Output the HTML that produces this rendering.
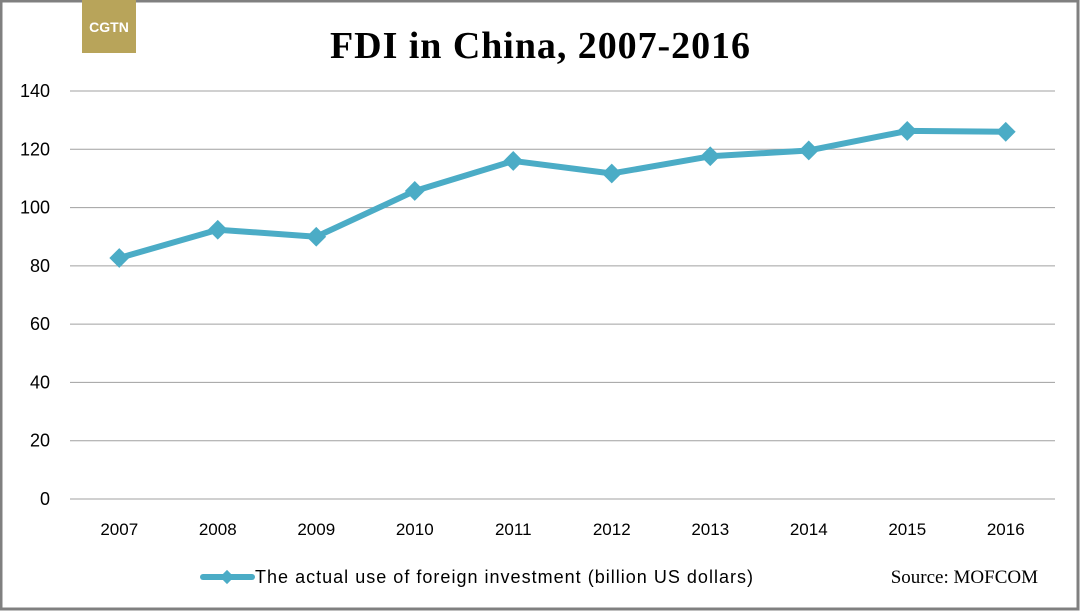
<!DOCTYPE html>
<html><head><meta charset="utf-8"><style>
html,body{margin:0;padding:0;background:#fff}
#wrap{position:relative;width:1080px;height:611px;overflow:hidden;background:#fff}
</style></head><body>
<div id="wrap">
<svg id="chart" width="1080" height="611" font-family="Liberation Sans, sans-serif">
<rect x="1" y="1" width="1077" height="608" fill="none" stroke="#808080" stroke-width="3"/>
<rect x="82" y="0" width="54" height="53" fill="#b8a45a"/>
<text x="109" y="32" text-anchor="middle" fill="#fff" font-size="14" font-weight="bold">CGTN</text>
<text x="540" y="58" text-anchor="middle" font-family="Liberation Serif, serif" font-weight="bold" font-size="38" textLength="420" fill="#000">FDI in China, 2007-2016</text>
<g id="grid"></g><g id="yt"></g><g id="xt"></g><g id="series"></g>
<line x1="203" y1="577" x2="252" y2="577" stroke="#4bacc6" stroke-width="6" stroke-linecap="round"/>
<rect x="222" y="572" width="10" height="10" fill="#4bacc6" transform="rotate(45 227 577)"/>
<text x="255" y="583" font-size="18" textLength="498" fill="#000">The actual use of foreign investment (billion US dollars)</text>
<text x="1038" y="583" text-anchor="end" font-family="Liberation Serif, serif" font-size="19" fill="#000">Source: MOFCOM</text>
</svg>
</div>
<script>
const years=["2007","2008","2009","2010","2011","2012","2013","2014","2015","2016"];
const fdi=[82.7,92.4,90.0,105.7,116.0,111.7,117.6,119.6,126.3,126.0];
const yTicks=[0,20,40,60,80,100,120,140];
const NS="http://www.w3.org/2000/svg";
const x0=70,x1=1055,yMin=0,yMax=140,py0=499,py1=91;
const step=(x1-x0)/years.length;
const xs=i=>x0+step*(i+0.5);
const ys=v=>py0-(v-yMin)/(yMax-yMin)*(py0-py1);
function mk(t,a,p){const e=document.createElementNS(NS,t);for(const k in a)e.setAttribute(k,a[k]);p.appendChild(e);return e;}
const g=document.getElementById('grid'),yt=document.getElementById('yt'),xt=document.getElementById('xt'),s=document.getElementById('series');
yTicks.forEach(v=>{
 const l=mk('line',{x1:x0,x2:x1,y1:ys(v),y2:ys(v),stroke:'#a0a0a0','stroke-width':1},g);
 
 
 const t=mk('text',{x:50,y:ys(v)+6,'text-anchor':'end','font-size':18,fill:'#000'},yt);
 t.textContent=v;
 
 
});
years.forEach((y,i)=>{
 const t=mk('text',{x:xs(i),y:535,'text-anchor':'middle','font-size':17,fill:'#000'},xt);
 t.textContent=y;
 
 
});
const pl=mk('polyline',{points:fdi.map((v,i)=>xs(i)+','+ys(v)).join(' '),fill:'none',stroke:'#4bacc6','stroke-width':6,'stroke-linejoin':'round'},s);


fdi.forEach((v,i)=>{
 const cx=xs(i),cy=ys(v);
 const m=mk('rect',{x:cx-7,y:cy-7,width:14,height:14,fill:'#4bacc6',transform:`rotate(45 ${cx} ${cy})`},s);
 
 
});
</script>
</body></html>
